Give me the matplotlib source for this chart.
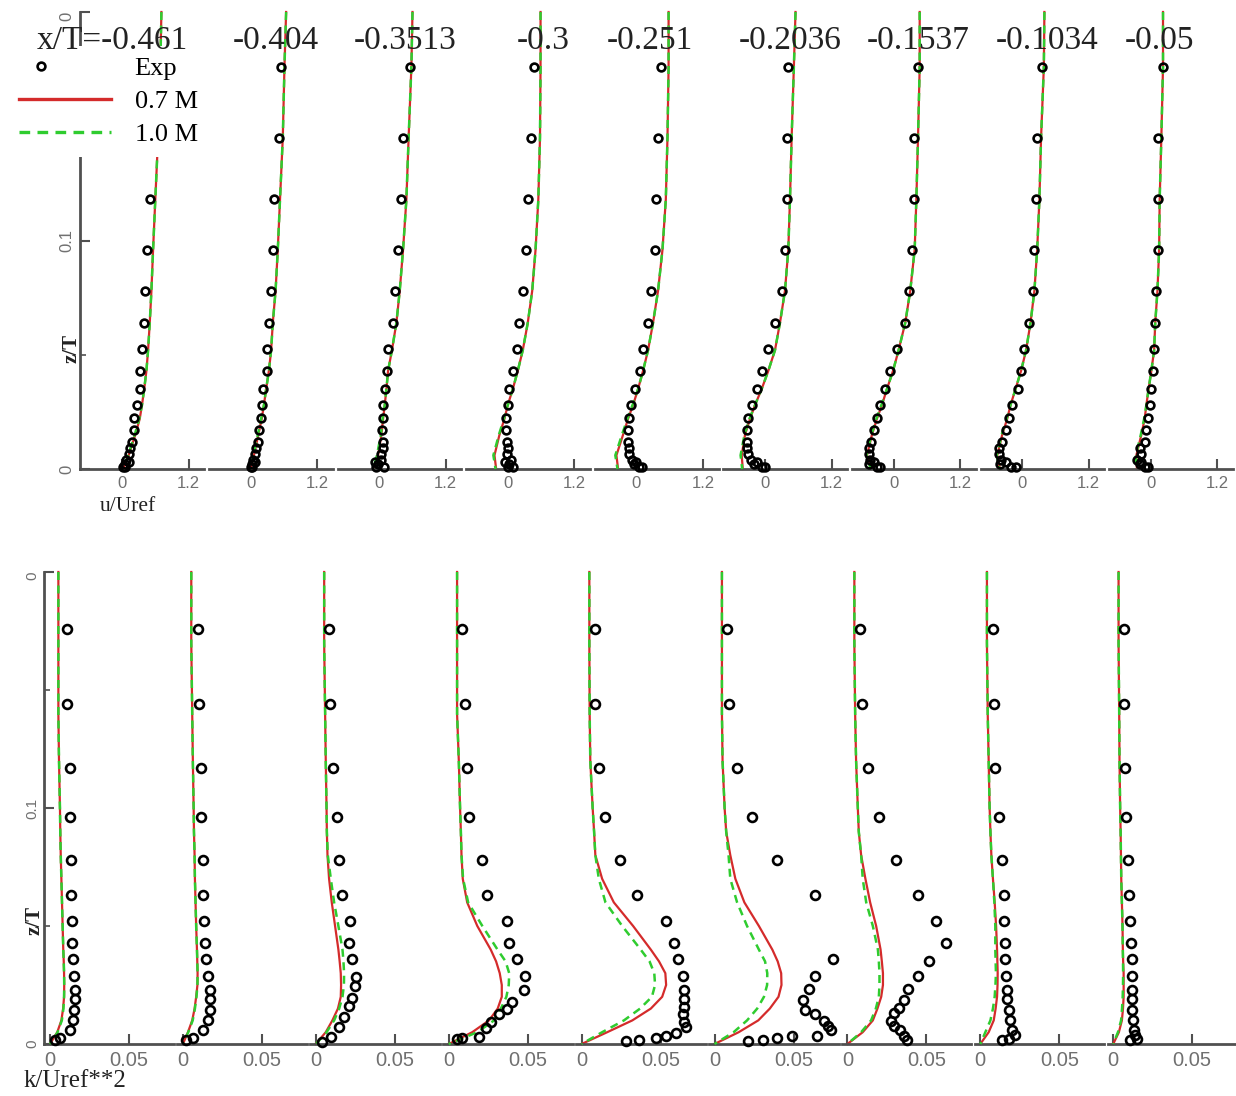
import matplotlib
matplotlib.use("Agg")
import matplotlib.pyplot as plt
from matplotlib.lines import Line2D
from matplotlib.legend_handler import HandlerLine2D

# ---------------------------------------------------------------- data
STATIONS = ["x/T=-0.461", "-0.404", "-0.3513", "-0.3", "-0.251",
            "-0.2036", "-0.1537", "-0.1034", "-0.05"]

# --- axial velocity u/Uref (top row)
U_LINE_Z = [0.200, 0.176, 0.145, 0.118, 0.096, 0.078, 0.064, 0.052,
            0.043, 0.035, 0.028, 0.022, 0.015, 0.006, 0.000]

U_07M = [
    [0.71, 0.69, 0.65, 0.60, 0.56, 0.53, 0.50, 0.47, 0.44, 0.40, 0.36, 0.32, 0.24, 0.12, 0.02],
    [0.64, 0.61, 0.58, 0.53, 0.49, 0.45, 0.40, 0.37, 0.33, 0.28, 0.24, 0.20, 0.14, 0.06, 0.00],
    [0.60, 0.58, 0.53, 0.49, 0.43, 0.37, 0.31, 0.23, 0.16, 0.13, 0.10, 0.07, 0.04, -0.02, -0.10],
    [0.59, 0.59, 0.58, 0.55, 0.50, 0.44, 0.36, 0.27, 0.18, 0.09, 0.00, -0.06, -0.15, -0.24, -0.21],
    [0.58, 0.58, 0.56, 0.53, 0.47, 0.39, 0.30, 0.21, 0.12, 0.03, -0.06, -0.15, -0.24, -0.36, -0.33],
    [0.55, 0.52, 0.48, 0.45, 0.42, 0.36, 0.27, 0.18, 0.06, -0.06, -0.18, -0.27, -0.36, -0.42, -0.40],
    [0.47, 0.47, 0.44, 0.41, 0.38, 0.30, 0.21, 0.09, -0.01, -0.12, -0.21, -0.30, -0.39, -0.48, -0.40],
    [0.40, 0.39, 0.34, 0.31, 0.27, 0.22, 0.15, 0.07, -0.02, -0.12, -0.21, -0.27, -0.36, -0.45, -0.40],
    [0.22, 0.22, 0.19, 0.16, 0.15, 0.12, 0.08, 0.06, 0.01, -0.04, -0.08, -0.11, -0.17, -0.26, -0.25],
]
U_10M = [
    [0.71, 0.69, 0.65, 0.60, 0.56, 0.53, 0.50, 0.47, 0.44, 0.40, 0.36, 0.31, 0.23, 0.11, 0.02],
    [0.64, 0.61, 0.58, 0.53, 0.49, 0.45, 0.40, 0.37, 0.33, 0.28, 0.24, 0.19, 0.13, 0.05, 0.00],
    [0.60, 0.58, 0.53, 0.49, 0.43, 0.37, 0.31, 0.23, 0.16, 0.13, 0.10, 0.06, 0.03, -0.04, -0.11],
    [0.59, 0.59, 0.58, 0.55, 0.50, 0.44, 0.36, 0.27, 0.18, 0.09, 0.00, -0.07, -0.16, -0.26, -0.22],
    [0.58, 0.58, 0.56, 0.53, 0.47, 0.39, 0.30, 0.21, 0.12, 0.03, -0.07, -0.16, -0.26, -0.38, -0.34],
    [0.55, 0.52, 0.48, 0.45, 0.42, 0.36, 0.27, 0.18, 0.06, -0.06, -0.18, -0.28, -0.37, -0.44, -0.41],
    [0.47, 0.47, 0.44, 0.41, 0.38, 0.30, 0.21, 0.09, -0.01, -0.12, -0.22, -0.31, -0.40, -0.49, -0.41],
    [0.40, 0.39, 0.34, 0.31, 0.27, 0.22, 0.15, 0.07, -0.02, -0.12, -0.21, -0.28, -0.37, -0.46, -0.41],
    [0.22, 0.22, 0.19, 0.16, 0.15, 0.12, 0.08, 0.06, 0.01, -0.04, -0.08, -0.12, -0.18, -0.27, -0.26],
]

U_EXP_Z = [0.176, 0.145, 0.118, 0.096, 0.078, 0.064, 0.0525, 0.043, 0.035, 0.028,
           0.0225, 0.017, 0.012, 0.0065, 0.002, 0.009, 0.004, 0.003, 0.001, 0.001]
U_EXP = [
    [0.62, 0.58, 0.51, 0.45, 0.42, 0.39, 0.36, 0.33, 0.33, 0.27, 0.21, 0.22, 0.18, 0.12, 0.05, 0.15, 0.08, 0.12, 0.02, 0.06],
    [0.55, 0.52, 0.43, 0.40, 0.36, 0.34, 0.30, 0.29, 0.23, 0.21, 0.19, 0.16, 0.13, 0.08, 0.02, 0.10, 0.05, 0.08, 0.00, 0.03],
    [0.55, 0.43, 0.40, 0.34, 0.28, 0.25, 0.16, 0.14, 0.10, 0.07, 0.07, 0.05, 0.07, 0.04, -0.02, 0.06, 0.03, -0.08, -0.05, 0.08],
    [0.47, 0.41, 0.36, 0.33, 0.27, 0.21, 0.17, 0.09, 0.03, 0.00, -0.03, -0.03, -0.02, -0.02, 0.02, 0.00, 0.05, -0.05, 0.10, 0.00],
    [0.45, 0.39, 0.36, 0.33, 0.27, 0.21, 0.12, 0.06, -0.03, -0.09, -0.14, -0.16, -0.15, -0.14, -0.05, -0.14, -0.08, 0.00, 0.05, 0.10],
    [0.42, 0.39, 0.39, 0.36, 0.30, 0.18, 0.06, -0.06, -0.15, -0.24, -0.30, -0.33, -0.33, -0.30, -0.20, -0.32, -0.25, -0.15, -0.05, 0.00],
    [0.44, 0.36, 0.36, 0.33, 0.27, 0.21, 0.06, -0.06, -0.15, -0.24, -0.30, -0.36, -0.41, -0.45, -0.45, -0.45, -0.42, -0.35, -0.30, -0.24],
    [0.35, 0.27, 0.25, 0.22, 0.19, 0.13, 0.04, -0.02, -0.08, -0.18, -0.24, -0.30, -0.36, -0.42, -0.40, -0.42, -0.38, -0.30, -0.20, -0.12],
    [0.22, 0.13, 0.13, 0.13, 0.10, 0.07, 0.06, 0.04, 0.01, -0.02, -0.05, -0.08, -0.11, -0.17, -0.20, -0.20, -0.24, -0.18, -0.10, -0.05],
]

# --- turbulent kinetic energy k/Uref**2 (bottom row)
K_LINE_Z = [0.20, 0.17, 0.14, 0.12, 0.10, 0.09, 0.08, 0.07, 0.06, 0.05,
            0.04, 0.035, 0.03, 0.025, 0.02, 0.015, 0.01, 0.005, 0.0]

K_07M = [
    [0.0053, 0.0053, 0.0053, 0.0057, 0.0063, 0.0065, 0.0068, 0.0072, 0.0076, 0.0080, 0.0084, 0.0087, 0.0089, 0.0090, 0.0089, 0.0083, 0.0072, 0.0046, 0.0],
    [0.0053, 0.0053, 0.0059, 0.0063, 0.0068, 0.0070, 0.0074, 0.0076, 0.0080, 0.0084, 0.0089, 0.0091, 0.0093, 0.0092, 0.0084, 0.0074, 0.0059, 0.0032, 0.0],
    [0.0053, 0.0053, 0.0059, 0.0063, 0.0068, 0.0070, 0.0074, 0.0084, 0.0101, 0.0122, 0.0143, 0.0151, 0.0158, 0.0160, 0.0158, 0.0140, 0.0105, 0.0063, 0.0],
    [0.0053, 0.0053, 0.0053, 0.0064, 0.0072, 0.0077, 0.0081, 0.0089, 0.0117, 0.0181, 0.0266, 0.0300, 0.0323, 0.0336, 0.0336, 0.0310, 0.0255, 0.0149, 0.0],
    [0.0049, 0.0049, 0.0051, 0.0055, 0.0070, 0.0079, 0.0087, 0.0130, 0.0204, 0.0326, 0.0438, 0.0490, 0.0530, 0.0535, 0.0510, 0.0438, 0.0321, 0.0162, 0.0],
    [0.0047, 0.0047, 0.0047, 0.0051, 0.0064, 0.0074, 0.0100, 0.0132, 0.0189, 0.0281, 0.0366, 0.0400, 0.0422, 0.0424, 0.0405, 0.0350, 0.0277, 0.0153, 0.0],
    [0.0044, 0.0044, 0.0049, 0.0055, 0.0066, 0.0072, 0.0087, 0.0114, 0.0144, 0.0182, 0.0210, 0.0218, 0.0225, 0.0225, 0.0214, 0.0190, 0.0161, 0.0097, 0.0],
    [0.0042, 0.0042, 0.0047, 0.0053, 0.0059, 0.0064, 0.0070, 0.0080, 0.0091, 0.0100, 0.0106, 0.0108, 0.0110, 0.0109, 0.0106, 0.0097, 0.0085, 0.0053, 0.0],
    [0.0034, 0.0034, 0.0038, 0.0040, 0.0044, 0.0047, 0.0049, 0.0051, 0.0055, 0.0059, 0.0061, 0.0063, 0.0066, 0.0066, 0.0066, 0.0062, 0.0055, 0.0036, 0.0],
]
K_10M = [
    [0.0053, 0.0053, 0.0053, 0.0057, 0.0063, 0.0065, 0.0068, 0.0072, 0.0076, 0.0080, 0.0084, 0.0087, 0.0089, 0.0090, 0.0089, 0.0085, 0.0075, 0.0048, 0.0],
    [0.0053, 0.0053, 0.0059, 0.0063, 0.0068, 0.0070, 0.0074, 0.0076, 0.0080, 0.0084, 0.0089, 0.0091, 0.0093, 0.0092, 0.0086, 0.0076, 0.0062, 0.0034, 0.0],
    [0.0053, 0.0053, 0.0059, 0.0063, 0.0068, 0.0070, 0.0076, 0.0095, 0.0116, 0.0143, 0.0169, 0.0175, 0.0179, 0.0178, 0.0169, 0.0148, 0.0116, 0.0068, 0.0],
    [0.0053, 0.0053, 0.0053, 0.0064, 0.0072, 0.0077, 0.0081, 0.0091, 0.0123, 0.0213, 0.0309, 0.0360, 0.0383, 0.0380, 0.0365, 0.0330, 0.0287, 0.0181, 0.0],
    [0.0049, 0.0049, 0.0051, 0.0055, 0.0070, 0.0079, 0.0087, 0.0109, 0.0151, 0.0257, 0.0374, 0.0430, 0.0460, 0.0465, 0.0445, 0.0370, 0.0268, 0.0130, 0.0],
    [0.0047, 0.0047, 0.0047, 0.0051, 0.0064, 0.0074, 0.0089, 0.0100, 0.0143, 0.0206, 0.0281, 0.0320, 0.0334, 0.0333, 0.0313, 0.0270, 0.0206, 0.0121, 0.0],
    [0.0044, 0.0044, 0.0049, 0.0055, 0.0066, 0.0072, 0.0087, 0.0097, 0.0119, 0.0161, 0.0193, 0.0199, 0.0203, 0.0203, 0.0199, 0.0180, 0.0150, 0.0087, 0.0],
    [0.0042, 0.0042, 0.0047, 0.0053, 0.0059, 0.0064, 0.0070, 0.0080, 0.0089, 0.0095, 0.0095, 0.0097, 0.0099, 0.0096, 0.0091, 0.0080, 0.0064, 0.0032, 0.0],
    [0.0034, 0.0034, 0.0038, 0.0040, 0.0044, 0.0047, 0.0049, 0.0051, 0.0055, 0.0059, 0.0061, 0.0062, 0.0063, 0.0062, 0.0060, 0.0056, 0.0050, 0.0030, 0.0],
]

K_EXP_Z = [
    [0.176, 0.144, 0.117, 0.096, 0.078, 0.063, 0.052, 0.043, 0.036, 0.029, 0.023, 0.019, 0.0145, 0.010, 0.006, 0.0025, 0.0015],
    [0.176, 0.144, 0.117, 0.096, 0.078, 0.063, 0.052, 0.043, 0.036, 0.029, 0.023, 0.019, 0.0145, 0.010, 0.006, 0.0025, 0.0015],
    [0.176, 0.144, 0.117, 0.096, 0.078, 0.063, 0.052, 0.043, 0.036, 0.0285, 0.0245, 0.0195, 0.016, 0.0116, 0.0074, 0.0031, 0.001],
    [0.176, 0.144, 0.117, 0.096, 0.078, 0.063, 0.052, 0.043, 0.036, 0.029, 0.023, 0.018, 0.015, 0.0127, 0.0095, 0.0068, 0.003, 0.0026, 0.0022],
    [0.176, 0.144, 0.117, 0.096, 0.078, 0.063, 0.052, 0.043, 0.036, 0.029, 0.023, 0.019, 0.0155, 0.0127, 0.0095, 0.007, 0.0046, 0.0032, 0.0025, 0.0017, 0.0013],
    [0.176, 0.144, 0.117, 0.096, 0.078, 0.063, 0.036, 0.029, 0.0235, 0.0186, 0.0144, 0.0127, 0.0099, 0.0078, 0.006, 0.0036, 0.0032, 0.0025, 0.0018, 0.0013],
    [0.176, 0.144, 0.117, 0.096, 0.078, 0.063, 0.052, 0.043, 0.035, 0.029, 0.0233, 0.0187, 0.0151, 0.013, 0.0099, 0.0078, 0.006, 0.0036, 0.0017],
    [0.176, 0.144, 0.117, 0.096, 0.078, 0.063, 0.052, 0.043, 0.036, 0.029, 0.023, 0.019, 0.0145, 0.010, 0.006, 0.004, 0.002, 0.0015],
    [0.176, 0.144, 0.117, 0.096, 0.078, 0.063, 0.052, 0.043, 0.036, 0.029, 0.023, 0.019, 0.0145, 0.010, 0.006, 0.004, 0.002, 0.0015],
]
K_EXP = [
    [0.0105, 0.0105, 0.0125, 0.0125, 0.0130, 0.0135, 0.0140, 0.0142, 0.0145, 0.0150, 0.0160, 0.0160, 0.0150, 0.0145, 0.0125, 0.0065, 0.0030],
    [0.0095, 0.0101, 0.0112, 0.0116, 0.0127, 0.0127, 0.0131, 0.0137, 0.0148, 0.0158, 0.0169, 0.0173, 0.0170, 0.0158, 0.0127, 0.0063, 0.0020],
    [0.0084, 0.0089, 0.0110, 0.0137, 0.0148, 0.0165, 0.0215, 0.0211, 0.0228, 0.0257, 0.0249, 0.0232, 0.0211, 0.0179, 0.0148, 0.0095, 0.0040],
    [0.0085, 0.0106, 0.0117, 0.0128, 0.0209, 0.0245, 0.0372, 0.0383, 0.0430, 0.0480, 0.0475, 0.0400, 0.0370, 0.0320, 0.0266, 0.0234, 0.0190, 0.0084, 0.0053],
    [0.0087, 0.0087, 0.0109, 0.0151, 0.0245, 0.0353, 0.0534, 0.0587, 0.0613, 0.0640, 0.0651, 0.0651, 0.0648, 0.0640, 0.0651, 0.0662, 0.0598, 0.0534, 0.0470, 0.0364, 0.0279],
    [0.0079, 0.0089, 0.0143, 0.0238, 0.0398, 0.0635, 0.0750, 0.0637, 0.0595, 0.0563, 0.0574, 0.0637, 0.0690, 0.0720, 0.0740, 0.0646, 0.0490, 0.0395, 0.0310, 0.0215],
    [0.0080, 0.0091, 0.0133, 0.0203, 0.0308, 0.0445, 0.0561, 0.0625, 0.0515, 0.0445, 0.0382, 0.0360, 0.0329, 0.0297, 0.0277, 0.0297, 0.0330, 0.0360, 0.0380],
    [0.0080, 0.0085, 0.0095, 0.0117, 0.0138, 0.0148, 0.0148, 0.0159, 0.0159, 0.0165, 0.0170, 0.0170, 0.0180, 0.0190, 0.0200, 0.0220, 0.0180, 0.0138],
    [0.0066, 0.0070, 0.0076, 0.0083, 0.0093, 0.0097, 0.0108, 0.0112, 0.0119, 0.0119, 0.0119, 0.0119, 0.0121, 0.0125, 0.0129, 0.0140, 0.0150, 0.0108],
]

# ---------------------------------------------------------------- layout
W, H, DPI = 1236, 1096, 100
SERIF = ["Liberation Serif", "DejaVu Serif"]
SANS = ["Liberation Sans", "DejaVu Sans"]
RED = "#d42b2b"
GREEN = "#2fcc2f"
SPINE = "#505050"
TICK_TXT = "#707070"
INK = "#222222"

plt.rcParams["font.family"] = SANS

# pixel geometry of the two rows of panels
TOP = dict(zero0=122.0, step=128.6, ppu=55.5, xlim=(-0.75, 1.48), ytop=12, ybot=469)
BOT = dict(zero0=50.0, step=132.9, ppu=1580.0, xlim=(-0.0035, 0.0785), ytop=572, ybot=1044)
TITLE_CX = [112, 276, 405, 543, 650, 790, 918, 1047, 1159]

fig = plt.figure(figsize=(W / DPI, H / DPI), dpi=DPI)


def panel(geom, i):
    zero = geom["zero0"] + geom["step"] * i
    x0, x1 = geom["xlim"]
    left = zero + x0 * geom["ppu"]
    width = (x1 - x0) * geom["ppu"]
    height = geom["ybot"] - geom["ytop"]
    ax = fig.add_axes([left / W, 1 - geom["ybot"] / H, width / W, height / H])
    ax.set_xlim(x0, x1)
    ax.set_ylim(0, 0.2)
    ax.patch.set_alpha(0)
    return ax


def style(ax, first, xticks, xlabels, xsize, ysize):
    for s in ("top", "right"):
        ax.spines[s].set_visible(False)
    for s in ("bottom", "left"):
        ax.spines[s].set_color(SPINE)
        ax.spines[s].set_linewidth(2)
    ax.spines["left"].set_visible(first)
    ax.set_xticks(xticks)
    ax.set_xticklabels(xlabels)
    ax.tick_params(axis="x", direction="in", length=7, width=1.5, color=SPINE,
                   labelcolor=TICK_TXT, labelsize=xsize, pad=5)
    if first:
        ax.set_yticks([0, 0.1, 0.2])
        ax.set_yticklabels(["0", "0.1", "0"])
        ax.set_yticks([0.05, 0.15], minor=True)
        ax.tick_params(axis="y", which="major", direction="in", length=7, width=1.5,
                       color=SPINE, labelcolor=TICK_TXT, labelsize=ysize, pad=4,
                       labelrotation=90)
        ax.tick_params(axis="y", which="minor", direction="in", length=4, width=1.2,
                       color=SPINE)
        labels = ax.get_yticklabels()
        for lbl in labels:
            lbl.set_va("center")
        labels[-1].set_va("top")
    else:
        ax.set_yticks([])


def exp_style(size):
    return dict(ls="none", marker="o", ms=size, mfc="none", mec="black",
                mew=1.9, clip_on=False, zorder=4)


for i in range(9):
    # velocity profiles
    ax = panel(TOP, i)
    style(ax, i == 0, [0, 1.2], ["0", "1.2"], 12, 12)
    ax.plot(U_07M[i], U_LINE_Z, color=RED, lw=1.6, clip_on=False, zorder=2)
    ax.plot(U_10M[i], U_LINE_Z, color=GREEN, lw=1.8, ls=(0, (3.2, 2.2)),
            clip_on=False, zorder=3)
    ax.plot(U_EXP[i], U_EXP_Z, **exp_style(5.6))

    # turbulent kinetic energy profiles
    ax = panel(BOT, i)
    style(ax, i == 0, [0, 0.05], ["0", "0.05"], 14.5, 11)
    ax.plot(K_07M[i], K_LINE_Z, color=RED, lw=1.6, clip_on=False, zorder=2)
    ax.plot(K_10M[i], K_LINE_Z, color=GREEN, lw=1.8, ls=(0, (3.2, 2.2)),
            clip_on=False, zorder=3)
    ax.plot(K_EXP[i], K_EXP_Z[i], **exp_style(6.4))

# station labels
for cx, s in zip(TITLE_CX, STATIONS):
    fig.text(cx / W, 1 - 41 / H, s, ha="center", va="center", fontsize=24,
             family=SERIF, color=INK, zorder=6)

# axis titles
fig.text(128 / W, 1 - 506 / H, "u/Uref", ha="center", va="center",
         fontsize=15.5, family=SERIF, color=INK)
fig.text(75 / W, 1 - 1081 / H, "k/Uref**2", ha="center", va="center",
         fontsize=18, family=SERIF, color=INK)
fig.text(72 / W, 1 - 348 / H, "z/T", ha="center", va="center", rotation=90,
         fontsize=15, family=SERIF, fontweight="bold", color=INK)
fig.text(35 / W, 1 - 920 / H, "z/T", ha="center", va="center", rotation=90,
         fontsize=15, family=SERIF, fontweight="bold", color=INK)


class LeftMarkerHandler(HandlerLine2D):
    """Legend handler that puts a single marker near the left of the handle."""

    def create_artists(self, legend, orig_handle, xdescent, ydescent, width,
                       height, fontsize, trans):
        artists = super().create_artists(legend, orig_handle, xdescent, ydescent,
                                         width, height, fontsize, trans)
        for art in artists:
            art.set_markevery(None)
            art.set_xdata([-xdescent + 0.24 * width])
            art.set_ydata([(height - ydescent) / 2])
        return artists


handles = [
    Line2D([], [], ls="none", marker="o", ms=5.6, mfc="none", mec="black", mew=1.9),
    Line2D([], [], color=RED, lw=2.4),
    Line2D([], [], color=GREEN, lw=2.4, ls=(0, (3.2, 2.2))),
]
fig.legend(handles, ["Exp", "0.7 M", "1.0 M"], loc="upper left",
           bbox_to_anchor=(8 / W, 1 - 46 / H), frameon=True, facecolor="white",
           edgecolor="none", framealpha=1, fancybox=False,
           prop={"family": SERIF, "size": 19}, handlelength=3.5,
           handletextpad=0.9, labelspacing=0.36, borderpad=0.4,
           borderaxespad=0, handler_map={handles[0]: LeftMarkerHandler()})

fig.savefig("out.png", dpi=DPI)
